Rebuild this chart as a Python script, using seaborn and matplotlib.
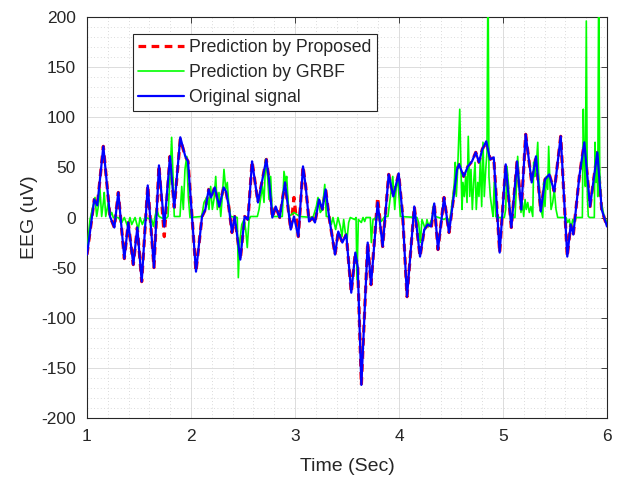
import matplotlib
matplotlib.use("Agg")
import matplotlib.pyplot as plt
import seaborn as sns
import pandas as pd
from matplotlib.ticker import MultipleLocator

# ---------------- data ----------------
orig_t = [1.000, 1.070, 1.099, 1.157, 1.221, 1.263, 1.301, 1.359, 1.397, 1.445,
          1.484, 1.526, 1.584, 1.644, 1.692, 1.743, 1.798, 1.839, 1.897, 1.945,
          1.971, 2.048, 2.106, 2.138, 2.170, 2.192, 2.228, 2.272, 2.314, 2.337,
          2.363, 2.394, 2.420, 2.474, 2.516, 2.548, 2.587, 2.644, 2.724, 2.750,
          2.782, 2.814, 2.853, 2.904, 2.959, 2.990, 3.032, 3.077, 3.103, 3.135,
          3.166, 3.192, 3.231, 3.263, 3.295, 3.327, 3.385, 3.416, 3.455, 3.493,
          3.541, 3.580, 3.603, 3.638, 3.699, 3.731, 3.795, 3.843, 3.901, 3.945,
          3.997, 4.036, 4.077, 4.147, 4.202, 4.243, 4.276, 4.308, 4.339, 4.375,
          4.433, 4.481, 4.526, 4.558, 4.577, 4.622, 4.663, 4.702, 4.738, 4.769,
          4.801, 4.839, 4.875, 4.911, 4.968, 5.026, 5.080, 5.135, 5.176, 5.218,
          5.276, 5.317, 5.363, 5.404, 5.445, 5.493, 5.555, 5.618, 5.651, 5.676,
          5.734, 5.782, 5.837, 5.907, 5.949, 6.000]
orig_v = [-37, 18, 12, 71, 1, -10, 25, -41, -5, -47,
          -10, -64, 32, -50, 52, -9, 61, 10, 80, 61,
          56, -54, 1, 8, 28, 20, 30, 11, 30, 26,
          11, -15, 1, -42, 1, -2, 56, 15, 58, 38,
          0, 11, 0, 35, -12, 1, -19, 51, 31, -4,
          0, -5, 18, 8, 28, 1, -37, -14, -25, -17,
          -75, -35, -49, -167, -25, -67, 15, -29, 43, 21,
          44, 1, -79, 11, -39, -12, -7, -9, 14, -32,
          20, -15, 21, 48, 53, 41, 51, 56, 65, 55,
          68, 76, 58, 60, -35, 53, -10, 56, 8, 83,
          35, 61, 6, 38, 43, 26, 81, -39, -7, -17,
          41, 75, 11, 65, 8, -9]
proposed_v = [-37, 18, 12, 71, 1, -10, 25, -41, -5, -47,
              -10, -64, 32, -50, 52, -19, 61, 10, 78, 61,
              56, -54, 1, 8, 28, 20, 30, 11, 30, 26,
              11, -15, 1, -42, 1, -2, 56, 15, 58, 38,
              0, 11, 0, 35, -12, 20, -19, 51, 31, -4,
              0, -5, 18, 8, 28, 1, -37, -14, -25, -17,
              -75, -35, -49, -167, -25, -67, 20, -29, 43, 21,
              44, 1, -79, 11, -39, -12, -7, -12, 14, -32,
              20, -15, 21, 48, 53, 41, 51, 56, 65, 55,
              68, 76, 58, 60, -35, 53, -10, 56, 8, 83,
              35, 61, 6, 38, 43, 26, 81, -39, -7, -17,
              41, 75, 11, 65, 8, -9]

grbf_t = [1.000, 1.007, 1.019, 1.029, 1.051, 1.077, 1.093, 1.109, 1.125, 1.141,
          1.157, 1.166, 1.180, 1.205, 1.221, 1.238, 1.253, 1.301, 1.334, 1.359,
          1.391, 1.413, 1.430, 1.462, 1.493, 1.510, 1.532, 1.558, 1.622, 1.638,
          1.654, 1.670, 1.692, 1.750, 1.779, 1.798, 1.814, 1.827, 1.839, 1.894,
          1.911, 1.926, 1.942, 1.959, 1.974, 1.990, 2.103, 2.125, 2.157, 2.173,
          2.189, 2.205, 2.221, 2.238, 2.253, 2.269, 2.286, 2.301, 2.317, 2.334,
          2.349, 2.365, 2.382, 2.445, 2.455, 2.468, 2.488, 2.510, 2.526, 2.541,
          2.558, 2.574, 2.638, 2.654, 2.686, 2.702, 2.718, 2.734, 2.750, 2.766,
          2.782, 2.878, 2.894, 2.911, 2.920, 2.942, 2.990, 3.045, 3.173, 3.205,
          3.221, 3.243, 3.263, 3.286, 3.301, 3.327, 3.349, 3.365, 3.391, 3.413,
          3.436, 3.452, 3.468, 3.484, 3.500, 3.516, 3.532, 3.574, 3.587, 3.596,
          3.609, 3.638, 3.654, 3.670, 3.683, 3.724, 3.734, 3.750, 3.798, 3.830,
          3.863, 3.894, 3.910, 3.926, 3.940, 3.959, 3.974, 3.990, 4.013, 4.173,
          4.189, 4.205, 4.221, 4.238, 4.253, 4.269, 4.286, 4.301, 4.317, 4.334,
          4.349, 4.382, 4.430, 4.462, 4.488, 4.503, 4.519, 4.532, 4.541, 4.551,
          4.564, 4.574, 4.584, 4.596, 4.606, 4.615, 4.628, 4.641, 4.654, 4.666,
          4.680, 4.692, 4.705, 4.718, 4.731, 4.743, 4.757, 4.769, 4.782, 4.795,
          4.808, 4.820, 4.834, 4.846, 4.856, 4.865, 4.878, 4.894, 4.904, 4.916,
          4.930, 4.942, 5.013, 5.026, 5.038, 5.051, 5.064, 5.077, 5.115, 5.128,
          5.141, 5.157, 5.173, 5.186, 5.199, 5.212, 5.224, 5.238, 5.253, 5.269,
          5.286, 5.295, 5.308, 5.320, 5.334, 5.343, 5.353, 5.365, 5.382, 5.391,
          5.404, 5.416, 5.430, 5.439, 5.452, 5.462, 5.478, 5.493, 5.510, 5.526,
          5.606, 5.622, 5.638, 5.654, 5.670, 5.686, 5.702, 5.763, 5.772, 5.782,
          5.792, 5.801, 5.811, 5.820, 5.834, 5.878, 5.885, 5.894, 5.904, 5.911,
          5.920, 5.930, 5.942, 5.959, 5.974, 6.000]
grbf_v = [-35, -25, -12, -2, 8, 20, 1, 11, 28, 1,
          15, 25, 1, 15, 1, 5, 0, 0, -5, 0,
          -9, 0, -7, 0, -12, 0, -7, 0, -2, -9,
          1, 8, 1, -2, 1, 41, 80, 41, 1, 1,
          31, 8, 48, 61, 21, 0, 1, 15, 21, 8,
          31, 8, 18, 41, 8, 25, 1, 21, 48, 28,
          35, 11, 1, 0, -60, -25, -7, -2, -12, -30,
          -2, 1, 1, 8, 31, 15, 58, 45, 18, 41,
          1, 1, 46, 35, 41, 1, 5, 1, 0, 11,
          20, 5, 8, 33, 1, 1, -7, 0, -12, 0,
          -9, -19, -2, -15, -22, -5, 0, -2, 0, -62,
          -2, -5, 0, -4, 0, 0, -25, -2, 1, -4,
          1, 1, 15, 28, 41, 8, 31, 36, 1, 0,
          -5, -25, -2, -7, -12, -2, -9, -5, -2, 13,
          1, 0, -2, 0, -5, 8, 21, 35, 55, 21,
          48, 78, 108, 48, 8, 35, 21, 41, 15, 81,
          21, 48, 8, 35, 55, 8, 35, 21, 58, 11,
          75, 21, 48, 65, 260, 41, 21, 8, 1, 35,
          1, 0, 0, 8, 51, 35, 8, 0, 0, 28,
          61, 28, 5, 15, 1, 18, 8, 15, 5, 11,
          1, 55, 41, 51, 75, 41, 15, 8, 0, 35,
          11, 41, 28, 71, 31, 8, 15, 28, 8, 0,
          0, -5, -2, -12, -2, -5, 0, 0, 108, 55,
          31, 196, 21, 1, 0, 0, 75, 35, 65, 21,
          240, 48, 15, 8, 0, -5]

x_ticks = [1, 2, 3, 4, 5, 6]
y_ticks = [-200, -150, -100, -50, 0, 50, 100, 150, 200]
labels = ["Prediction by Proposed", "Prediction by GRBF", "Original signal"]

# ---------------- style ----------------
sns.set_style("white")
plt.rcParams['font.family'] = ['Liberation Sans', 'DejaVu Sans']
plt.rcParams['axes.unicode_minus'] = False

fig = plt.figure(figsize=(6.23, 4.82), dpi=100)
ax = fig.add_axes([87 / 623, 1 - 418 / 482, 520 / 623, 401 / 482])

df_o = pd.DataFrame({"t": orig_t, "orig": orig_v, "prop": proposed_v})
df_g = pd.DataFrame({"t": grbf_t, "grbf": grbf_v})

sns.lineplot(data=df_o, x="t", y="prop", ax=ax, color="#ff0000", lw=2.3,
             linestyle=(0, (2.4, 1.7)), sort=False, estimator=None,
             label=labels[0], zorder=2)
sns.lineplot(data=df_g, x="t", y="grbf", ax=ax, color="#00ff00", lw=1.2,
             sort=False, estimator=None, label=labels[1], zorder=3)
sns.lineplot(data=df_o, x="t", y="orig", ax=ax, color="#0000ff", lw=1.6,
             sort=False, estimator=None, label=labels[2], zorder=4)

ax.set_xlim(1, 6)
ax.set_ylim(-200, 200)
ax.set_xticks(x_ticks)
ax.set_yticks(y_ticks)
ax.xaxis.set_minor_locator(MultipleLocator(0.2))
ax.yaxis.set_minor_locator(MultipleLocator(10))
ax.set_axisbelow(True)
ax.grid(which="major", color="#dcdcdc", lw=0.7, ls="-")
ax.grid(which="minor", color="#cfcfcf", lw=0.6, ls=(0, (1, 3)))

ax.tick_params(which="major", direction="in", top=True, right=True,
               length=4, width=0.6, color="#262626", labelsize=12.5,
               labelcolor="#262626")
ax.tick_params(axis="x", which="major", pad=8)
ax.tick_params(axis="y", which="major", pad=8)
ax.tick_params(which="minor", length=0)
for s in ax.spines.values():
    s.set_color("#262626")
    s.set_linewidth(0.8)

ax.set_xlabel("Time (Sec)", fontsize=14, color="#262626", labelpad=10)
ax.set_ylabel("EEG (uV)", fontsize=14, color="#262626", labelpad=2)

leg = ax.legend(loc="upper left", bbox_to_anchor=(0.088, 0.958), fontsize=12.7,
                frameon=True, fancybox=False, framealpha=1, edgecolor="#262626",
                handlelength=2.6, handletextpad=0.3, labelspacing=0.45,
                borderpad=0.3, borderaxespad=0)
leg.get_frame().set_linewidth(0.8)

fig.savefig("out.png", dpi=100)
